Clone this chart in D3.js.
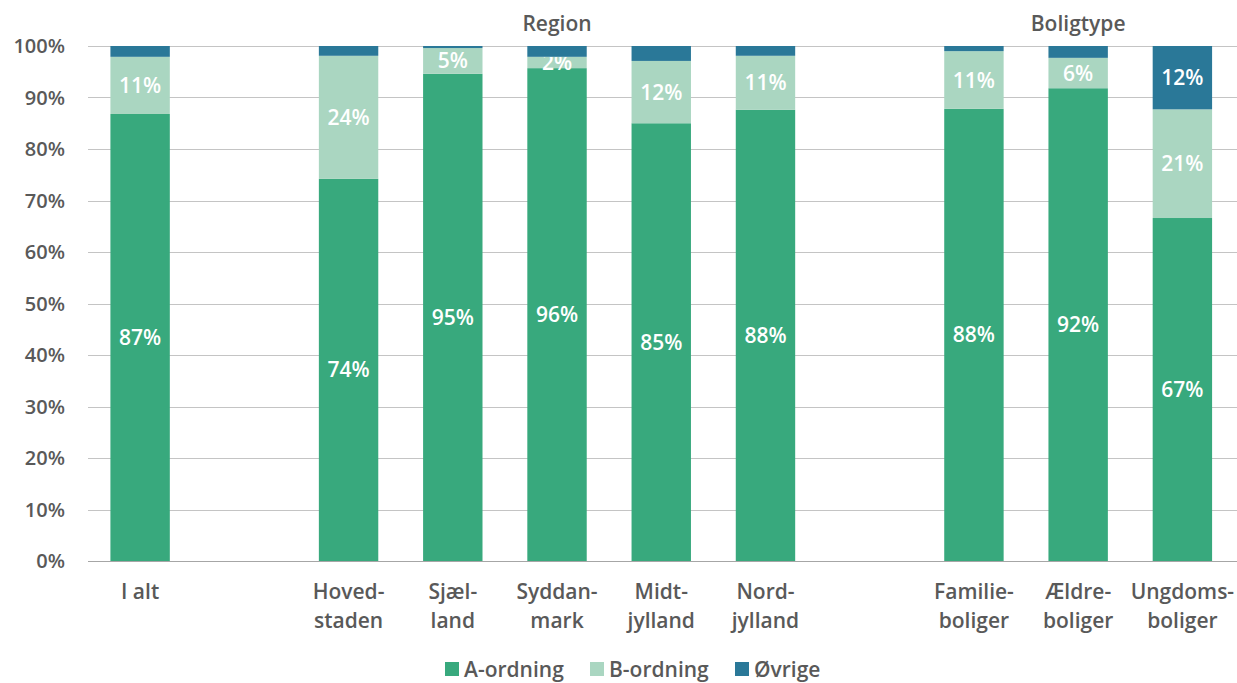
<!DOCTYPE html>
<html>
<head>
<meta charset="utf-8">
<script src="https://cdn.jsdelivr.net/npm/d3@7"></script>
<style>
  body { margin: 0; background: #fff; }
  svg { font-family: "Open Sans", sans-serif; }
</style>
</head>
<body>
<svg id="mainFrame"></svg>
<script>
// categories ('' = empty slot between groups)
const categories = ['I alt', '', 'Hoved-\nstaden', 'Sjæl-\nland', 'Syddan-\nmark', 'Midt-\njylland', 'Nord-\njylland', ' ', 'Familie-\nboliger', 'Ældre-\nboliger', 'Ungdoms-\nboliger']
const seriesNames = ['A-ordning', 'B-ordning', 'Øvrige']
const aOrdning = [86.8, null, 74.2, 94.6, 95.7, 85.0, 87.6, null, 87.8, 91.8, 66.6]
const bOrdning = [11.1, null, 23.9, 5.0, 2.2, 12.1, 10.5, null, 11.2, 5.9, 21.1]
const oevrige = [2.1, null, 1.9, 0.4, 2.1, 2.9, 1.9, null, 1.0, 2.3, 12.3]
const yTicks = [0, 10, 20, 30, 40, 50, 60, 70, 80, 90, 100]
const groups = [
    {name: 'Region', from: 'Hoved-\nstaden', to: 'Nord-\njylland'},
    {name: 'Boligtype', from: 'Familie-\nboliger', to: 'Ungdoms-\nboliger'}
]

const colors = ['#38a97d', '#aad6c1', '#2a7898']
const textColor = '#595959'

const width = 1237, height = 683
const svg = d3.select('#mainFrame')
    .attr('width', width)
    .attr('height', height)

const margin = {top: 46, right: 2, bottom: 122, left: 88}

const x = d3.scaleBand()
    .domain(categories)
    .range([margin.left, width - margin.right - 0.5])
    .paddingInner(0.43)
    .paddingOuter(0.215)

const y = d3.scaleLinear()
    .domain([0, 100])
    .range([height - margin.bottom, margin.top])

// gridlines
svg.append('g')
    .selectAll('line')
    .data(yTicks)
    .join('line')
    .attr('x1', margin.left)
    .attr('x2', width)
    .attr('y1', d => Math.round(y(d)) + 0.5)
    .attr('y2', d => Math.round(y(d)) + 0.5)
    .attr('stroke', d => d === 0 ? '#a6a6a6' : '#c4c4c4')
    .attr('stroke-width', 1)

// y tick labels
svg.append('g')
    .selectAll('text')
    .data(yTicks)
    .join('text')
    .attr('x', 65)
    .attr('y', d => y(d))
    .attr('dy', '0.35em')
    .attr('text-anchor', 'end')
    .attr('font-size', 20)
    .attr('font-weight', 600)
    .attr('fill', textColor)
    .text(d => d + '%')

// stack data
const rows = categories.map((c, i) => ({
    cat: c,
    'A-ordning': aOrdning[i],
    'B-ordning': bOrdning[i],
    'Øvrige': oevrige[i]
})).filter(d => d['A-ordning'] !== null)

const stacked = d3.stack().keys(seriesNames)(rows)

const layers = svg.append('g')
    .selectAll('g')
    .data(stacked)
    .join('g')
    .attr('fill', (d, i) => colors[i])

layers.selectAll('rect')
    .data(d => d)
    .join('rect')
    .attr('x', d => x(d.data.cat))
    .attr('width', x.bandwidth())
    .attr('y', d => y(d[1]))
    .attr('height', d => y(d[0]) - y(d[1]))

// value labels (tiny Øvrige segments get none)
layers.selectAll('text')
    .data((d, i) => d.map(v => ({v, i})).filter(e => {
        const val = e.v[1] - e.v[0]
        return e.i === 2 ? val >= 5 : val >= 1.5
    }))
    .join('text')
    .attr('x', d => x(d.v.data.cat) + x.bandwidth() / 2)
    .attr('y', d => y((d.v[0] + d.v[1]) / 2))
    .attr('dy', '0.36em')
    .attr('text-anchor', 'middle')
    .attr('font-size', 21)
    .attr('font-weight', 600)
    .attr('fill', '#fff')
    .text(d => Math.round(d.v[1] - d.v[0]) + '%')

// category labels
const catLabels = svg.append('g')
    .selectAll('text')
    .data(categories.filter(c => c.trim() !== ''))
    .join('text')
    .attr('x', d => x(d) + x.bandwidth() / 2)
    .attr('y', 599)
    .attr('text-anchor', 'middle')
    .attr('font-size', 21)
    .attr('font-weight', 600)
    .attr('fill', textColor)

catLabels.selectAll('tspan')
    .data(d => d.split('\n'))
    .join('tspan')
    .attr('x', function() { return this.parentNode.getAttribute('x') })
    .attr('dy', (d, i) => i === 0 ? 0 : 29)
    .text(d => d)

// group headers
svg.append('g')
    .selectAll('text')
    .data(groups)
    .join('text')
    .attr('x', d => (x(d.from) + x(d.to) + x.bandwidth()) / 2)
    .attr('y', 31)
    .attr('text-anchor', 'middle')
    .attr('font-size', 21)
    .attr('font-weight', 600)
    .attr('fill', textColor)
    .text(d => d.name)

// legend
const legendX = [445, 590, 735]
const legend = svg.append('g')
    .selectAll('g')
    .data(seriesNames)
    .join('g')
    .attr('transform', (d, i) => `translate(${legendX[i]}, 662)`)

legend.append('rect')
    .attr('width', 14)
    .attr('height', 14)
    .attr('fill', (d, i) => colors[i])

legend.append('text')
    .attr('x', 19)
    .attr('y', 7)
    .attr('dy', '0.36em')
    .attr('font-size', 21)
    .attr('font-weight', 600)
    .attr('fill', textColor)
    .text(d => d)
</script>
</body>
</html>
